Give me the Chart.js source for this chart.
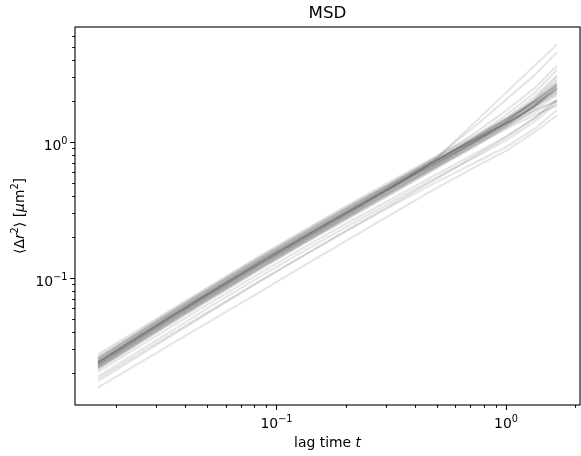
<!DOCTYPE html>
<html>
<head>
<meta charset="utf-8">
<script src="https://cdn.jsdelivr.net/npm/chart.js@4/dist/chart.umd.min.js"></script>
<style>
  html, body { margin: 0; padding: 0; background: #fff; }
  #wrap { width: 581px; height: 456px; }
</style>
</head>
<body>
<div id="wrap"><canvas id="chart" width="581" height="456"></canvas></div>
<script>
// lag times in seconds (frame / 60 fps)
const lagTimes = [0.01667, 0.03333, 0.05, 0.08333, 0.1333, 0.2, 0.3333, 0.5, 0.75, 1.0, 1.333, 1.667];

// MSD per particle, um^2
const pA = [0.024, 0.050, 0.076, 0.128, 0.203, 0.30, 0.49, 0.72, 1.06, 1.42, 1.93, 2.5];
const pB = [0.0252, 0.0525, 0.080, 0.134, 0.213, 0.315, 0.51, 0.74, 1.07, 1.39, 1.82, 2.3];
const pC = [0.0228, 0.0475, 0.072, 0.122, 0.193, 0.285, 0.466, 0.69, 1.02, 1.37, 1.9, 2.6];
const pD = [0.0221, 0.046, 0.070, 0.118, 0.187, 0.277, 0.455, 0.68, 1.02, 1.4, 2.05, 3.0];
const pE = [0.026, 0.054, 0.082, 0.138, 0.219, 0.323, 0.52, 0.75, 1.07, 1.37, 1.72, 2.0];
const pF = [0.0233, 0.0485, 0.0737, 0.124, 0.197, 0.291, 0.476, 0.70, 1.04, 1.40, 1.98, 2.75];
const pG = [0.0245, 0.051, 0.0775, 0.131, 0.207, 0.306, 0.50, 0.74, 1.12, 1.58, 2.3, 3.4];
const pH = [0.0216, 0.045, 0.0684, 0.115, 0.183, 0.27, 0.44, 0.65, 0.95, 1.27, 1.72, 2.2];
const pI = [0.0264, 0.055, 0.0836, 0.141, 0.223, 0.33, 0.53, 0.77, 1.2, 1.7, 2.5, 3.65];
const pJ = [0.0235, 0.049, 0.0745, 0.125, 0.199, 0.294, 0.48, 0.705, 1.04, 1.37, 1.86, 2.45];
const pK = [0.0247, 0.0515, 0.078, 0.132, 0.209, 0.309, 0.505, 0.74, 1.1, 1.47, 2.05, 2.85];
const pL = [0.0226, 0.047, 0.0715, 0.120, 0.191, 0.282, 0.46, 0.67, 0.97, 1.25, 1.58, 1.86];
const pM = [0.0254, 0.053, 0.0805, 0.136, 0.215, 0.318, 0.52, 0.78, 1.35, 2.05, 3.1, 4.56];
const pN = [0.023, 0.048, 0.073, 0.123, 0.195, 0.29, 0.48, 0.76, 1.45, 2.3, 3.65, 5.2];
const pO = [0.024, 0.050, 0.076, 0.128, 0.203, 0.30, 0.49, 0.73, 1.09, 1.5, 2.15, 3.1];
const pP = [0.0223, 0.0465, 0.0707, 0.119, 0.189, 0.279, 0.456, 0.67, 0.99, 1.32, 1.86, 2.6];
const pQ = [0.0257, 0.0535, 0.0813, 0.137, 0.217, 0.321, 0.52, 0.76, 1.11, 1.46, 1.92, 2.4];
const pR = [0.0238, 0.0495, 0.0752, 0.127, 0.201, 0.297, 0.485, 0.70, 1.01, 1.3, 1.66, 2.03];
const pS = [0.0242, 0.0505, 0.0768, 0.129, 0.205, 0.303, 0.495, 0.73, 1.07, 1.43, 1.98, 2.7];
const pT = [0.0214, 0.0445, 0.0676, 0.114, 0.181, 0.267, 0.436, 0.645, 0.96, 1.3, 1.82, 2.48];
const pU = [0.0275, 0.056, 0.085, 0.143, 0.227, 0.336, 0.545, 0.79, 1.14, 1.49, 2.0, 2.6];
const pV = [0.024, 0.050, 0.076, 0.128, 0.203, 0.30, 0.49, 0.715, 1.04, 1.36, 1.8, 2.28];
const pAB = [0.0232, 0.0485, 0.074, 0.124, 0.197, 0.292, 0.478, 0.70, 1.03, 1.36, 1.84, 2.38];
const pAC = [0.0246, 0.0512, 0.0778, 0.131, 0.208, 0.307, 0.50, 0.735, 1.08, 1.45, 2.0, 2.65];
const pAD = [0.0219, 0.0457, 0.0695, 0.117, 0.186, 0.275, 0.45, 0.665, 0.99, 1.33, 1.85, 2.5];
// the few slower ones below the bundle
const pW = [0.0157, 0.0314, 0.047, 0.078, 0.125, 0.187, 0.31, 0.46, 0.67, 0.86, 1.18, 1.57];
const pX = [0.0183, 0.037, 0.056, 0.094, 0.149, 0.22, 0.355, 0.51, 0.72, 0.92, 1.25, 1.72];
const pY = [0.019, 0.039, 0.060, 0.101, 0.160, 0.236, 0.38, 0.55, 0.79, 1.03, 1.42, 1.92];
const pZ = [0.0205, 0.042, 0.064, 0.107, 0.17, 0.25, 0.40, 0.58, 0.84, 1.1, 1.5, 2.0];
const pAA = [0.0175, 0.036, 0.055, 0.093, 0.149, 0.222, 0.365, 0.54, 0.81, 1.08, 1.5, 2.05];

const particles = [pA, pB, pC, pD, pE, pF, pG, pH, pI, pJ, pK, pL, pM, pN, pO, pP, pQ, pR,
    pS, pT, pU, pV, pAB, pAC, pAD, pW, pX, pY, pZ, pAA];

// major ticks (value, exponent shown)
const xMajor = [0.1, 1];
const xMajorExp = ['\u22121', '0'];
const yMajor = [0.1, 1];
const yMajorExp = ['\u22121', '0'];

const FONT = "'DejaVu Sans', sans-serif";
const LABEL_SIZE = 13.9;
Chart.defaults.font.family = FONT;
Chart.defaults.color = '#000';

function minorTicks(min, max){
    let out = [];
    for (let e = -3; e <= 2; e++){
        for (let m = 2; m <= 9; m++){
            const v = m * Math.pow(10, e);
            if (v > min && v < max) out.push(v);
        }
    }
    return out;
}

function runFont(r, size){
    const s = r.sup ? size * 0.7 : size;
    return (r.italic ? 'italic ' : '') + s + 'px ' + FONT;
}

// text made of runs (normal / italic / superscript); align: 'center' or 'right'
function drawRuns(ctx, runs, size, align){
    let total = 0;
    runs.forEach(function(r){
        ctx.font = runFont(r, size);
        r.w = ctx.measureText(r.t).width;
        total += r.w;
    });
    let x = align === 'right' ? -total : -total / 2;
    runs.forEach(function(r){
        ctx.font = runFont(r, size);
        ctx.fillText(r.t, x, r.sup ? -size * 0.42 : 0);
        x += r.w;
    });
}

function powerLabel(exp){
    return [{t: '10'}, {t: exp, sup: true}];
}

const framePlugin = {
    id: 'frame',
    afterDraw(chart){
        const ctx = chart.ctx;
        const a = chart.chartArea;
        const xs = chart.scales.x, ys = chart.scales.y;
        ctx.save();
        ctx.strokeStyle = '#000';
        ctx.fillStyle = '#000';
        ctx.lineWidth = 1.1;
        ctx.textBaseline = 'alphabetic';
        ctx.textAlign = 'left';

        // tick marks
        ctx.beginPath();
        minorTicks(xs.min, xs.max).forEach(function(v){
            const px = Math.round(xs.getPixelForValue(v)) + 0.5;
            ctx.moveTo(px, a.bottom);
            ctx.lineTo(px, a.bottom + 2.8);
        });
        minorTicks(ys.min, ys.max).forEach(function(v){
            const py = Math.round(ys.getPixelForValue(v)) + 0.5;
            ctx.moveTo(a.left, py);
            ctx.lineTo(a.left - 2.8, py);
        });
        xMajor.forEach(function(v){
            const px = Math.round(xs.getPixelForValue(v)) + 0.5;
            ctx.moveTo(px, a.bottom);
            ctx.lineTo(px, a.bottom + 4.9);
        });
        yMajor.forEach(function(v){
            const py = Math.round(ys.getPixelForValue(v)) + 0.5;
            ctx.moveTo(a.left, py);
            ctx.lineTo(a.left - 4.9, py);
        });
        ctx.stroke();

        // spines
        ctx.strokeRect(a.left, a.top, a.right - a.left, a.bottom - a.top);

        // tick labels
        xMajor.forEach(function(v, i){
            ctx.save();
            ctx.translate(xs.getPixelForValue(v), a.bottom + 23);
            drawRuns(ctx, powerLabel(xMajorExp[i]), LABEL_SIZE, 'center');
            ctx.restore();
        });
        yMajor.forEach(function(v, i){
            ctx.save();
            ctx.translate(a.left - 7.5, ys.getPixelForValue(v) + 7.5);
            drawRuns(ctx, powerLabel(yMajorExp[i]), LABEL_SIZE, 'right');
            ctx.restore();
        });

        // titles
        ctx.save();
        ctx.translate((a.left + a.right) / 2, 18);
        drawRuns(ctx, [{t: 'MSD'}], 16.7, 'center');
        ctx.restore();

        ctx.save();
        ctx.translate((a.left + a.right) / 2, 447);
        drawRuns(ctx, [{t: 'lag time '}, {t: 't', italic: true}], LABEL_SIZE, 'center');
        ctx.restore();

        ctx.save();
        ctx.translate(24, (a.top + a.bottom) / 2);
        ctx.rotate(-Math.PI / 2);
        drawRuns(ctx, [{t: '\u27E8\u0394'}, {t: 'r', italic: true}, {t: '2', sup: true},
            {t: '\u27E9 ['}, {t: '\u03BC', italic: true}, {t: 'm'}, {t: '2', sup: true}, {t: ']'}],
            LABEL_SIZE, 'center');
        ctx.restore();

        ctx.restore();
    }
};

const datasets = particles.map(function(p){
    return {
        data: lagTimes.map(function(t, i){ return {x: t, y: p[i]}; }),
        borderColor: 'rgba(0, 0, 0, 0.1)',
        borderWidth: 2.1,
        pointRadius: 0,
        tension: 0,
        fill: false
    };
});

const CHconfig = {
    type: 'line',
    data: {datasets: datasets},
    options: {
        responsive: false,
        animation: false,
        events: [],
        layout: {padding: {top: 27, right: 1, left: 0, bottom: 0}},
        plugins: {legend: {display: false}, tooltip: {enabled: false}, title: {display: false}},
        scales: {
            x: {
                type: 'logarithmic',
                min: 0.01325,
                max: 2.1,
                afterFit: function(s){ s.height = 51; },
                ticks: {display: false},
                grid: {display: false},
                border: {display: false}
            },
            y: {
                type: 'logarithmic',
                min: 0.0117,
                max: 7.0,
                afterFit: function(s){ s.width = 75; },
                ticks: {display: false},
                grid: {display: false},
                border: {display: false}
            }
        }
    },
    plugins: [framePlugin]
};

const chart = new Chart(document.getElementById('chart'), CHconfig);
</script>
</body>
</html>
